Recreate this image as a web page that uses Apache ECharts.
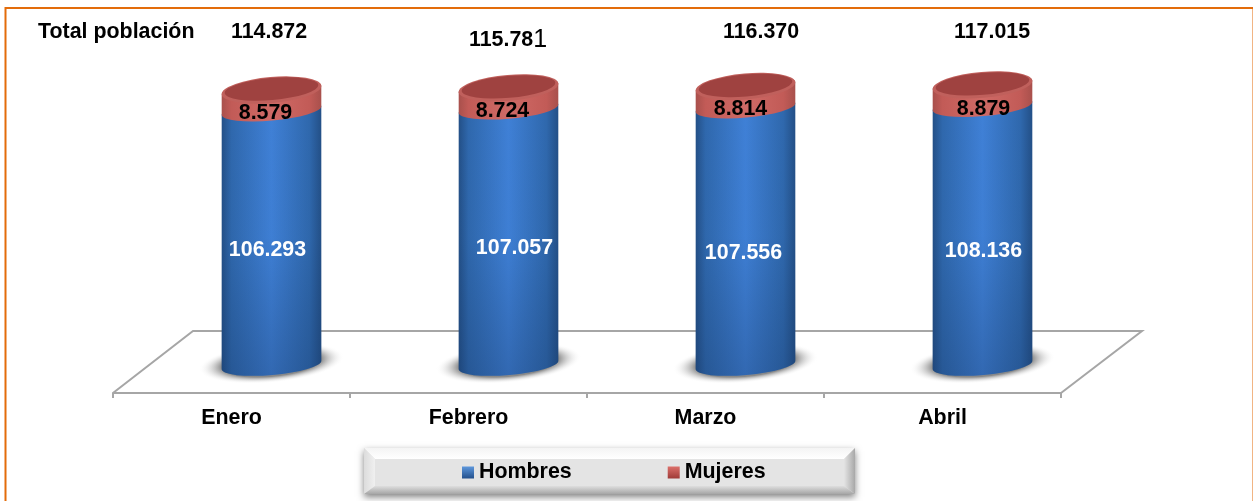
<!DOCTYPE html>
<html>
<head>
<meta charset="utf-8">
<style>
	html, body { margin: 0; padding: 0; background: #fff; }
	#chart { width: 1253px; height: 501px; }
</style>
<script src="https://cdn.jsdelivr.net/npm/echarts@6/dist/echarts.min.js"></script>
</head>
<body>
<div id="chart"></div>
<script>
var meses = ['Enero', 'Febrero', 'Marzo', 'Abril'];
var hombres = [106293, 107057, 107556, 108136];
var mujeres = [8579, 8724, 8814, 8879];
var hombresTxt = ['106.293', '107.057', '107.556', '108.136'];
var mujeresTxt = ['8.579', '8.724', '8.814', '8.879'];
var totalTxt = ['114.872', '{a|115.78}{b|1}', '116.370', '117.015'];

// the labels were placed by hand in the original, so they sit a bit off centre
var hombresNudge = [[-4, 12], [6, 11], [-2, 17], [1, 16]];
var mujeresNudge = [[-6, 13], [-6, 13], [-5, 12], [1, 14]];
var totalPos = [[269, 32], [508, 40], [761, 32], [992, 32]];

var FONT = '"Liberation Sans", Arial, sans-serif';
var FONT_SIZE = 21.4;

// 3d look of the floor and of the cylinders
var FLOOR_DX = 81, FLOOR_DY = -62;
var BAR_DX = 40, BAR_DY = -28;
var RX = 50, RY = 10, RY_TOP = 13, TILT = -5;

function rimPoints(cx, cy) {
	var a = TILT * Math.PI / 180;
	return {
		lx: cx - RX * Math.cos(a), ly: cy - RX * Math.sin(a),
		rx: cx + RX * Math.cos(a), ry: cy + RX * Math.sin(a)
	};
}

function ellipsePath(cx, cy, rx, ry) {
	var a = TILT * Math.PI / 180;
	var dx = rx * Math.cos(a), dy = rx * Math.sin(a);
	var arc = 'A' + rx + ' ' + ry + ' ' + TILT + ' 1 1 ';
	return 'M' + (cx - dx) + ' ' + (cy - dy) + arc + (cx + dx) + ' ' + (cy + dy) + arc + (cx - dx) + ' ' + (cy - dy) + 'Z';
}

// side of a cylinder piece: down the left edge, round the front, up the right edge, back round the top
function bodyPath(cx, yTop, yBottom) {
	var t = rimPoints(cx, yTop), b = rimPoints(cx, yBottom);
	var arc = 'A' + RX + ' ' + RY + ' ' + TILT + ' 0 ';
	return 'M' + t.lx + ' ' + t.ly + 'L' + b.lx + ' ' + b.ly + arc + '0 ' + b.rx + ' ' + b.ry +
		'L' + t.rx + ' ' + t.ry + arc + '0 ' + t.lx + ' ' + t.ly + 'Z';
}

function sideGradient(edge, mid, light) {
	return new echarts.graphic.LinearGradient(0, 0, 1, 0, [
		{ offset: 0, color: edge },
		{ offset: 0.1, color: mid },
		{ offset: 0.5, color: light },
		{ offset: 0.88, color: mid },
		{ offset: 1, color: edge }
	]);
}

function valueLabel(text, x, y, color) {
	return {
		type: 'text', z2: 20,
		style: { text: text, x: x, y: y, fill: color, font: 'bold ' + FONT_SIZE + 'px ' + FONT, align: 'center', verticalAlign: 'middle' }
	};
}

function renderFloor(params, api) {
	var c = params.coordSys;
	var y = c.y + c.height;
	return {
		type: 'polyline',
		shape: { points: [[c.x, y], [c.x + FLOOR_DX - 1, y + FLOOR_DY], [c.x + c.width + FLOOR_DX, y + FLOOR_DY], [c.x + c.width, y]] },
		style: { fill: null, stroke: '#a6a6a6', lineWidth: 2 }
	};
}

function renderHombres(params, api) {
	var i = api.value(0);
	var base = api.coord([i, 0]);
	var top = api.coord([i, api.value(1)]);
	var mid = api.coord([i, api.value(1) / 2]);
	var cx = base[0] + BAR_DX, y0 = base[1] + BAR_DY, y1 = top[1] + BAR_DY;
	var path = bodyPath(cx, y1, y0);
	return {
		type: 'group',
		children: [
			{
				// soft shadow on the floor: a round gradient squashed flat
				type: 'circle',
				x: cx, y: y0 - 2, scaleY: 0.27, rotation: 0.09,
				shape: { cx: 0, cy: 0, r: 73 },
				style: {
					fill: new echarts.graphic.RadialGradient(0.5, 0.5, 0.5, [
						{ offset: 0, color: '#666' },
						{ offset: 0.68, color: '#8a8a8a' },
						{ offset: 1, color: 'rgba(255,255,255,0)' }
					])
				}
			},
			{ type: 'path', shape: { pathData: path }, style: { fill: sideGradient('#234f86', '#2f68ad', '#3f80d6') } },
			{
				type: 'path', shape: { pathData: path },
				style: {
					fill: new echarts.graphic.LinearGradient(0, 0, 0, 1, [
						{ offset: 0, color: 'rgba(20,50,95,0)' },
						{ offset: 0.5, color: 'rgba(20,50,95,0.02)' },
						{ offset: 1, color: 'rgba(20,50,95,0.3)' }
					])
				}
			},
			valueLabel(hombresTxt[i], cx + hombresNudge[i][0], mid[1] + BAR_DY + hombresNudge[i][1], '#fff')
		]
	};
}

function renderMujeres(params, api) {
	var i = api.value(0);
	var low = api.value(2), v = api.value(1);
	var a = api.coord([i, low]);
	var b = api.coord([i, low + v]);
	var mid = api.coord([i, low + v / 2]);
	var cx = a[0] + BAR_DX, y0 = a[1] + BAR_DY, y1 = b[1] + BAR_DY;
	return {
		type: 'group',
		children: [
			{ type: 'path', shape: { pathData: bodyPath(cx, y1, y0) }, style: { fill: sideGradient('#a8504c', '#c25b57', '#cf6a66') } },
			{ type: 'path', shape: { pathData: ellipsePath(cx, y1, RX, RY_TOP) }, style: { fill: '#c0605c' } },
			{ type: 'path', shape: { pathData: ellipsePath(cx, y1 - 1, RX - 3, RY_TOP - 2) }, style: { fill: '#9f4240' } },
			valueLabel(mujeresTxt[i], cx + mujeresNudge[i][0], mid[1] + BAR_DY + mujeresNudge[i][1], '#000')
		]
	};
}

function bevel(c1, c2, horizontal) {
	return new echarts.graphic.LinearGradient(0, 0, horizontal ? 1 : 0, horizontal ? 0 : 1, [
		{ offset: 0, color: c1 },
		{ offset: 1, color: c2 }
	]);
}

function legendBox(x, y, w, h, b) {
	var low = 8;
	return [
		{ type: 'rect', z: 0, shape: { x: x, y: y, width: w, height: h }, style: { fill: '#e4e4e4', shadowBlur: 7, shadowOffsetY: 3, shadowColor: 'rgba(0,0,0,0.5)' } },
		{ type: 'polygon', z: 1, shape: { points: [[x, y], [x + w, y], [x + w - b, y + b], [x + b, y + b]] }, style: { fill: bevel('#f4f4f4', '#ffffff', false) } },
		{ type: 'polygon', z: 1, shape: { points: [[x, y], [x + b, y + b], [x + b, y + h - low], [x, y + h]] }, style: { fill: bevel('#dcdcdc', '#f0f0f0', true) } },
		{ type: 'polygon', z: 1, shape: { points: [[x + w, y], [x + w - b, y + b], [x + w - b, y + h - low], [x + w, y + h]] }, style: { fill: bevel('#e4e4e4', '#a8a8a8', true) } },
		{ type: 'polygon', z: 1, shape: { points: [[x, y + h], [x + b, y + h - low], [x + w - b, y + h - low], [x + w, y + h]] }, style: { fill: bevel('#dedede', '#a6a6a6', false) } }
	];
}

var graphics = [
	{ type: 'rect', z: 0, shape: { x: 5.5, y: 8, width: 1248, height: 510 }, style: { fill: null, stroke: '#e36c0a', lineWidth: 2 } },
	{ type: 'text', z: 5, style: { text: 'Total población', x: 38, y: 32, fill: '#000', font: 'bold ' + FONT_SIZE + 'px ' + FONT, verticalAlign: 'middle' } }
].concat(legendBox(364, 448, 491, 46, 11));

totalTxt.forEach(function (t, i) {
	graphics.push({
		type: 'text', z: 5,
		style: {
			text: t, x: totalPos[i][0], y: totalPos[i][1], fill: '#000', font: 'bold ' + FONT_SIZE + 'px ' + FONT,
			align: 'center', verticalAlign: 'middle',
			rich: {
				a: { font: 'bold ' + FONT_SIZE + 'px ' + FONT, fill: '#000' },
				b: { font: '25px ' + FONT, fill: '#000' }
			}
		}
	});
});

var myChart = echarts.init(document.getElementById('chart'));
myChart.setOption({
	animation: false,
	backgroundColor: '#fff',
	grid: { left: 113, right: 192, top: 10, bottom: 108 },
	graphic: { elements: graphics },
	legend: {
		left: 457, top: 457, itemWidth: 12, itemHeight: 12, itemGap: 96, icon: 'rect',
		textStyle: { fontFamily: FONT, fontWeight: 'bold', fontSize: FONT_SIZE, color: '#000' },
		data: [
			{ name: 'Hombres', itemStyle: { color: bevel('#5d97dc', '#23508c', false) } },
			{ name: 'Mujeres', itemStyle: { color: bevel('#dc6f6a', '#9f3b38', false) } }
		]
	},
	xAxis: {
		type: 'category',
		data: meses,
		axisLine: { lineStyle: { color: '#a6a6a6', width: 2 } },
		axisTick: { show: true, length: 5, lineStyle: { color: '#a6a6a6', width: 2 } },
		axisLabel: { margin: 15, color: '#000', fontFamily: FONT, fontWeight: 'bold', fontSize: FONT_SIZE }
	},
	yAxis: { type: 'value', min: 0, max: 160000, show: false, splitLine: { show: false } },
	series: [
		{ name: 'Piso', type: 'custom', z: 1, silent: true, renderItem: renderFloor, data: [[0, 0]], encode: { x: 0, y: 1 } },
		{
			name: 'Hombres', type: 'custom', z: 2, renderItem: renderHombres, itemStyle: { color: '#2f68ad' },
			encode: { x: 0, y: 1 },
			data: hombres.map(function (v, i) { return [i, v]; })
		},
		{
			name: 'Mujeres', type: 'custom', z: 3, renderItem: renderMujeres, itemStyle: { color: '#b84c48' },
			encode: { x: 0, y: 1 },
			data: mujeres.map(function (v, i) { return [i, v, hombres[i]]; })
		}
	]
});
</script>
</body>
</html>
